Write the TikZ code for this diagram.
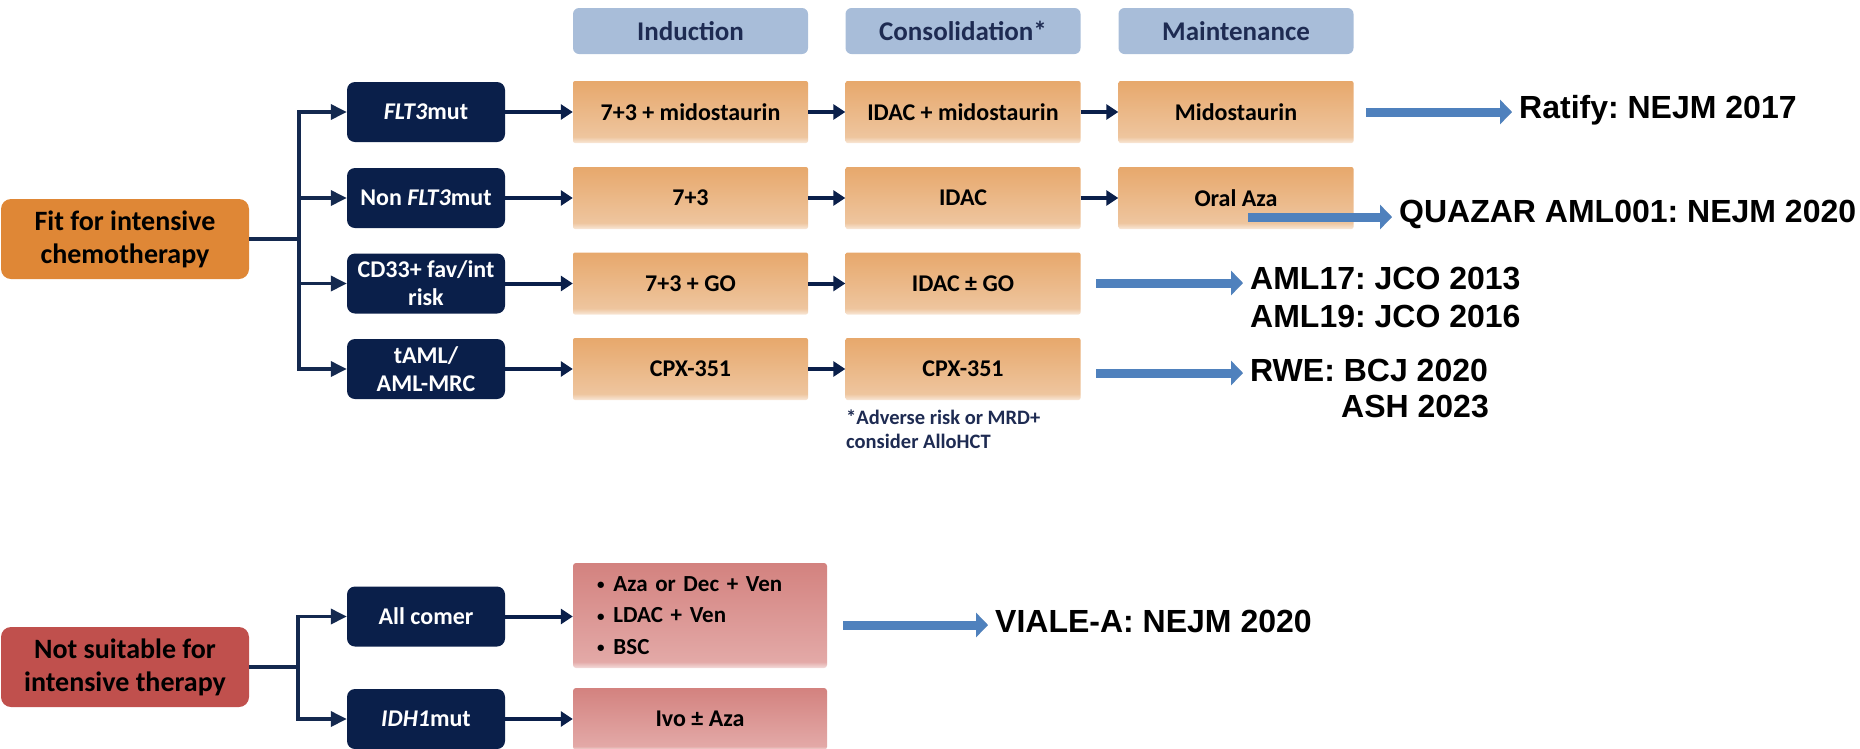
\documentclass[tikz,border=0pt]{standalone}
\usepackage{fontspec}
\setmainfont{Carlito}
\newfontfamily\arfont{Liberation Sans}
\usetikzlibrary{arrows.meta}
\definecolor{navy}{HTML}{0A1F4A}
\definecolor{linec}{HTML}{14294F}
\definecolor{fitor}{HTML}{DF8736}
\definecolor{nfred}{HTML}{C0504D}
\definecolor{hdr}{HTML}{A8BDD9}
\definecolor{hdrtxt}{HTML}{1E2B52}
\definecolor{orT}{HTML}{E7A86C}
\definecolor{orB}{HTML}{EEC59E}
\definecolor{pkT}{HTML}{D3827F}
\definecolor{pkB}{HTML}{E3A9A7}
\definecolor{blu}{HTML}{4F81BD}
\pgfdeclareverticalshading{orfade}{100bp}{color(0bp)=(white); color(25bp)=(white!60!orB); color(30bp)=(orB); color(75bp)=(orT); color(100bp)=(orT)}
\pgfdeclareverticalshading{pkfade}{100bp}{color(0bp)=(white); color(25bp)=(white!60!pkB); color(28bp)=(pkB); color(75bp)=(pkT); color(100bp)=(pkT)}
\newcommand{\bulline}[1]{\mbox{{\fontsize{15}{15}\selectfont\raisebox{1.5pt}{•}}\hspace{9pt}#1}}
\tikzset{
  darkbox/.style={fill=navy, rounded corners=8pt, minimum width=158pt, minimum height=60pt, text=white, align=center, inner sep=0pt, font=\bfseries\fontsize{24}{28}\selectfont},
  orbox/.style={shade, shading=orfade, rounded corners=2pt, minimum width=235pt, minimum height=62pt, align=center, inner sep=0pt, font=\bfseries\fontsize{24}{28}\selectfont},
  pkbox/.style={shade, shading=pkfade, rounded corners=3pt, minimum width=254pt, inner sep=0pt, font=\bfseries\fontsize{23}{31.5}\selectfont},
  hdrbox/.style={fill=hdr, rounded corners=6pt, minimum width=235pt, minimum height=46pt, text=hdrtxt, inner sep=0pt, font=\bfseries\fontsize{27}{30}\selectfont},
  catbox/.style={rounded corners=10pt, minimum width=248pt, minimum height=80pt, align=center, inner sep=0pt, font=\bfseries\fontsize{28}{33}\selectfont},
  br/.style={draw=linec, line width=3.5pt},
  brarr/.style={br, -{Triangle[length=16pt,width=15pt]}},
  sarr/.style={draw=navy, line width=4pt, -{Triangle[length=12pt,width=15pt]}},
  bluarr/.style={draw=blu, line width=9pt, -{Triangle[length=12pt,width=24pt]}},
  blush/.style={draw=black, opacity=.15, line width=9pt, -{Triangle[length=12pt,width=24pt]}},
  reflab/.style={font=\arfont\bfseries\fontsize{32}{38}\selectfont, inner xsep=7pt, inner ysep=0pt, anchor=base west},
}
\begin{document}
\frenchspacing
\begin{tikzpicture}[x=1pt,y=-1pt]
\useasboundingbox (0,0) rectangle (1860,748);
% category boxes
\node[catbox, fill=fitor] (fit) at (125,239) {Fit for intensive\\chemotherapy};
\node[catbox, fill=nfred] (nfit) at (125,667) {Not suitable for\\intensive therapy};
% dark boxes
\node[darkbox] (d1) at (426,112) {\textit{FLT3}mut};
\node[darkbox] (d2) at (426,198) {Non \textit{FLT3}mut};
\node[darkbox] (d3) at (426,283.5) {CD33+ fav/int\\risk};
\node[darkbox] (d4) at (426,369) {tAML/\\AML-MRC};
\node[darkbox] (d5) at (426,616.5) {All comer};
\node[darkbox] (d6) at (426,719) {\textit{IDH1}mut};
% headers
\node[hdrbox] (h1) at (690.5,31) {Induction};
\node[hdrbox] (h2) at (963,31) {Consolidation*};
\node[hdrbox] (h3) at (1236,31) {Maintenance};
% orange boxes
\node[orbox] (i1) at (690.5,112) {7+3 + midostaurin};
\node[orbox] (c1) at (963,112) {IDAC + midostaurin};
\node[orbox] (m1) at (1236,112) {Midostaurin};
\node[orbox] (i2) at (690.5,198) {7+3};
\node[orbox] (c2) at (963,198) {IDAC};
\node[orbox] (m2) at (1236,198) {Oral Aza};
\node[orbox] (i3) at (690.5,283.5) {7+3 + GO};
\node[orbox] (c3) at (963,283.5) {IDAC ± GO};
\node[orbox] (i4) at (690.5,369) {CPX-351};
\node[orbox] (c4) at (963,369) {CPX-351};
% pink boxes
\node[pkbox, minimum height=105pt, text width=206pt, align=left] (p1) at (700,615.5) {\bulline{Aza or Dec + Ven}\\\bulline{LDAC + Ven}\\\bulline{BSC}};
\node[pkbox, minimum height=62pt, align=center, font=\bfseries\fontsize{24}{28}\selectfont] (p2) at (700,719) {Ivo ± Aza};
% footnote
\node[anchor=north west, inner sep=0pt, align=left, text=hdrtxt, font=\bfseries\fontsize{20.5}{24}\selectfont] (fn) at (846,410) {*Adverse risk or MRD+\\consider AlloHCT};
% upper tree
\coordinate (t) at (299,0);
\draw[br] (fit.east) -- (fit.east -| t);
\draw[br, line cap=rect] (t |- d1) -- (t |- d4);
\foreach \n in {d1,d2,d3,d4} \draw[brarr] (t |- \n) -- (\n.west);
\draw[sarr] (d1) -- (i1);
\draw[sarr] (d2) -- (i2);
\draw[sarr] (d3) -- (i3);
\draw[sarr] (d4) -- (i4);
\draw[sarr] (i1) -- (c1);
\draw[sarr] (c1) -- (m1);
\draw[sarr] (i2) -- (c2);
\draw[sarr] (c2) -- (m2);
\draw[sarr] (i3) -- (c3);
\draw[sarr] (i4) -- (c4);
% lower tree
\coordinate (u) at (298,0);
\draw[br] (nfit.east) -- (nfit.east -| u);
\draw[br, line cap=rect] (u |- d5) -- (u |- d6);
\foreach \n in {d5,d6} \draw[brarr] (u |- \n) -- (\n.west);
\draw[sarr] (d5.east) -- (d5.east -| p1.west);
\draw[sarr] (d6.east) -- (d6.east -| p2.west);
% reference labels
\node[reflab] (rat) at (1512,118) {Ratify: NEJM 2017};
\node[reflab] (qua) at (1392,222) {QUAZAR AML001: NEJM 2020};
\node[reflab] (a17) at (1243,289) {AML17: JCO 2013};
\node[reflab] (a19) at (1243,327) {AML19: JCO 2016};
\node[reflab] (rwe) at (1243,381) {RWE: BCJ 2020};
\node[reflab] (ash) at (1334,417) {ASH 2023};
\node[reflab] (via) at (988,632) {VIALE-A: NEJM 2020};
% blue arrows
\coordinate (sRat) at (1366,112);
\coordinate (sQua) at (1248,217);
\coordinate (sAml) at (1096,283);
\coordinate (sRwe) at (1096,373);
\coordinate (sVia) at (843,625);
\foreach \s/\l in {sRat/rat,sQua/qua,sAml/a17,sRwe/rwe,sVia/via}{
  \draw[blush, xshift=2pt, yshift=-3pt] (\s) -- (\s -| \l.west);
  \draw[bluarr] (\s) -- (\s -| \l.west);
}
\end{tikzpicture}
\end{document}
